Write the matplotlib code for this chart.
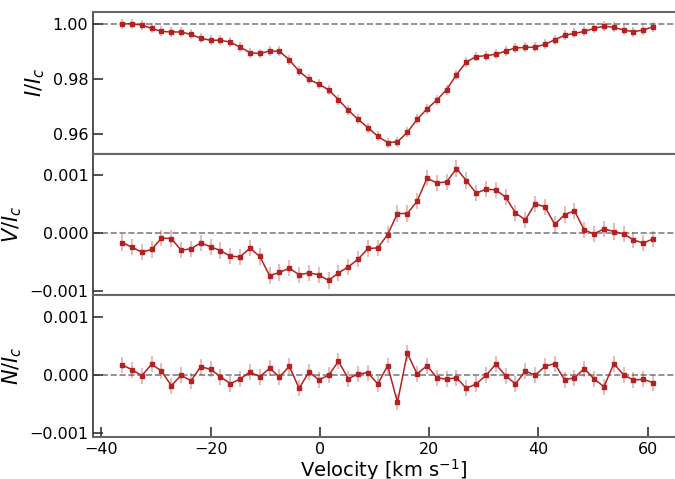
import numpy as np
import matplotlib
matplotlib.use("Agg")
import matplotlib.pyplot as plt

velocity = [-36.2 + 1.8 * i for i in range(55)]

stokes_I = [0.9999, 1.0000, 0.9995, 0.9983, 0.9972, 0.9970, 0.9970, 0.9961, 0.9947, 0.9940,
            0.9940, 0.9933, 0.9915, 0.9895, 0.9892, 0.9901, 0.9900, 0.9869, 0.9828, 0.9798,
            0.9781, 0.9760, 0.9725, 0.9686, 0.9653, 0.9623, 0.9592, 0.9569, 0.9572, 0.9606,
            0.9653, 0.9691, 0.9723, 0.9761, 0.9815, 0.9861, 0.9881, 0.9884, 0.9889, 0.9901,
            0.9912, 0.9914, 0.9915, 0.9925, 0.9942, 0.9958, 0.9965, 0.9972, 0.9983, 0.9991,
            0.9987, 0.9977, 0.9971, 0.9977, 0.9989]

stokes_V = [-0.000167, -0.000247, -0.000333, -0.000287, -0.000092, -0.000098, -0.000299, -0.000276,
            -0.000172, -0.000241, -0.000305, -0.000402, -0.000414, -0.000264, -0.000408, -0.000736,
            -0.000684, -0.000609, -0.000724, -0.000690, -0.000724, -0.000822, -0.000690, -0.000586,
            -0.000454, -0.000270, -0.000259, -0.000029, 0.000333, 0.000333, 0.000546, 0.000943,
            0.000862, 0.000879, 0.001109, 0.000902, 0.000684, 0.000753, 0.000741, 0.000615,
            0.000345, 0.000224, 0.000500, 0.000448, 0.000144, 0.000316, 0.000379, 0.000046,
            -0.000017, 0.000069, 0.000023, -0.000017, -0.000121, -0.000178, -0.000103]

null_N = [0.000178, 0.000098, -0.000006, 0.000190, 0.000075, -0.000178, 0.000000, -0.000092,
          0.000149, 0.000103, -0.000023, -0.000144, -0.000063, 0.000057, -0.000023, 0.000121,
          -0.000029, 0.000155, -0.000224, 0.000057, -0.000075, 0.000000, 0.000241, -0.000057,
          0.000023, 0.000046, -0.000149, 0.000167, -0.000466, 0.000379, 0.000023, 0.000167,
          -0.000040, -0.000069, -0.000040, -0.000224, -0.000149, 0.000000, 0.000190, -0.000006,
          -0.000149, 0.000075, 0.000000, 0.000155, 0.000201, -0.000080, -0.000040, 0.000115,
          -0.000063, -0.000195, 0.000201, 0.000006, -0.000080, -0.000069, -0.000126]

err_I = 0.0018
err_V = 0.00014
err_N = 0.00014

color = "#b22222"
spine_col = "#666666"

fig = plt.figure(figsize=(6.75, 4.79), dpi=100)
axes = fig.subplots(3, 1, sharex=True)
fig.subplots_adjust(left=0.138, right=1.0, top=0.975, bottom=0.088, hspace=0.0)

def fmt_tick(decimals):
    def f(v, pos):
        s = f"{abs(v):.{decimals}f}"
        return ("\u2212" + s) if v < -1e-12 else s
    return matplotlib.ticker.FuncFormatter(f)

panels = [
    (axes[0], stokes_I, err_I, 1.0, r"$I/I_c$", (0.9529, 1.00425), [0.96, 0.98, 1.00], 2),
    (axes[1], stokes_V, err_V, 0.0, r"$V/I_c$", (-0.001076, 0.001367), [-0.001, 0.0, 0.001], 3),
    (axes[2], null_N, err_N, 0.0, r"$N/I_c$", (-0.00106, 0.00138), [-0.001, 0.0, 0.001], 3),
]

for ax, y, e, ref, lab, ylim, ticks, dec in panels:
    ax.axhline(ref, color="gray", ls="--", lw=1.2, zorder=1)
    ax.errorbar(velocity, y, yerr=e, fmt="none", ecolor=color, alpha=0.3, elinewidth=1.5, zorder=2)
    ax.plot(velocity, y, "-s", color=color, lw=1.1, ms=2.2, zorder=3)
    ax.set_ylim(*ylim)
    ax.set_yticks(ticks)
    ax.yaxis.set_major_formatter(fmt_tick(dec))
    ax.set_ylabel(lab, fontsize=15)
    ax.tick_params(direction="in", length=7, width=1.2, labelsize=11.5,
                   left=True, right=False, top=False, bottom=True, color="#333333")
    ax.spines["right"].set_visible(False)
    for s in ["top", "bottom"]:
        ax.spines[s].set_color(spine_col)
        ax.spines[s].set_linewidth(1.5)
    ax.spines["left"].set_color("#333333")
    ax.spines["left"].set_linewidth(1.2)

for ax in axes[:2]:
    ax.tick_params(axis="x", bottom=False, labelbottom=False)

axes[2].set_xlim(-41.5, 65)
axes[2].set_xticks([-40, -20, 0, 20, 40, 60])
axes[2].set_xlabel(r"Velocity [km s$^{-1}$]", fontsize=14, labelpad=0)

fig.savefig("out.png", dpi=100)
